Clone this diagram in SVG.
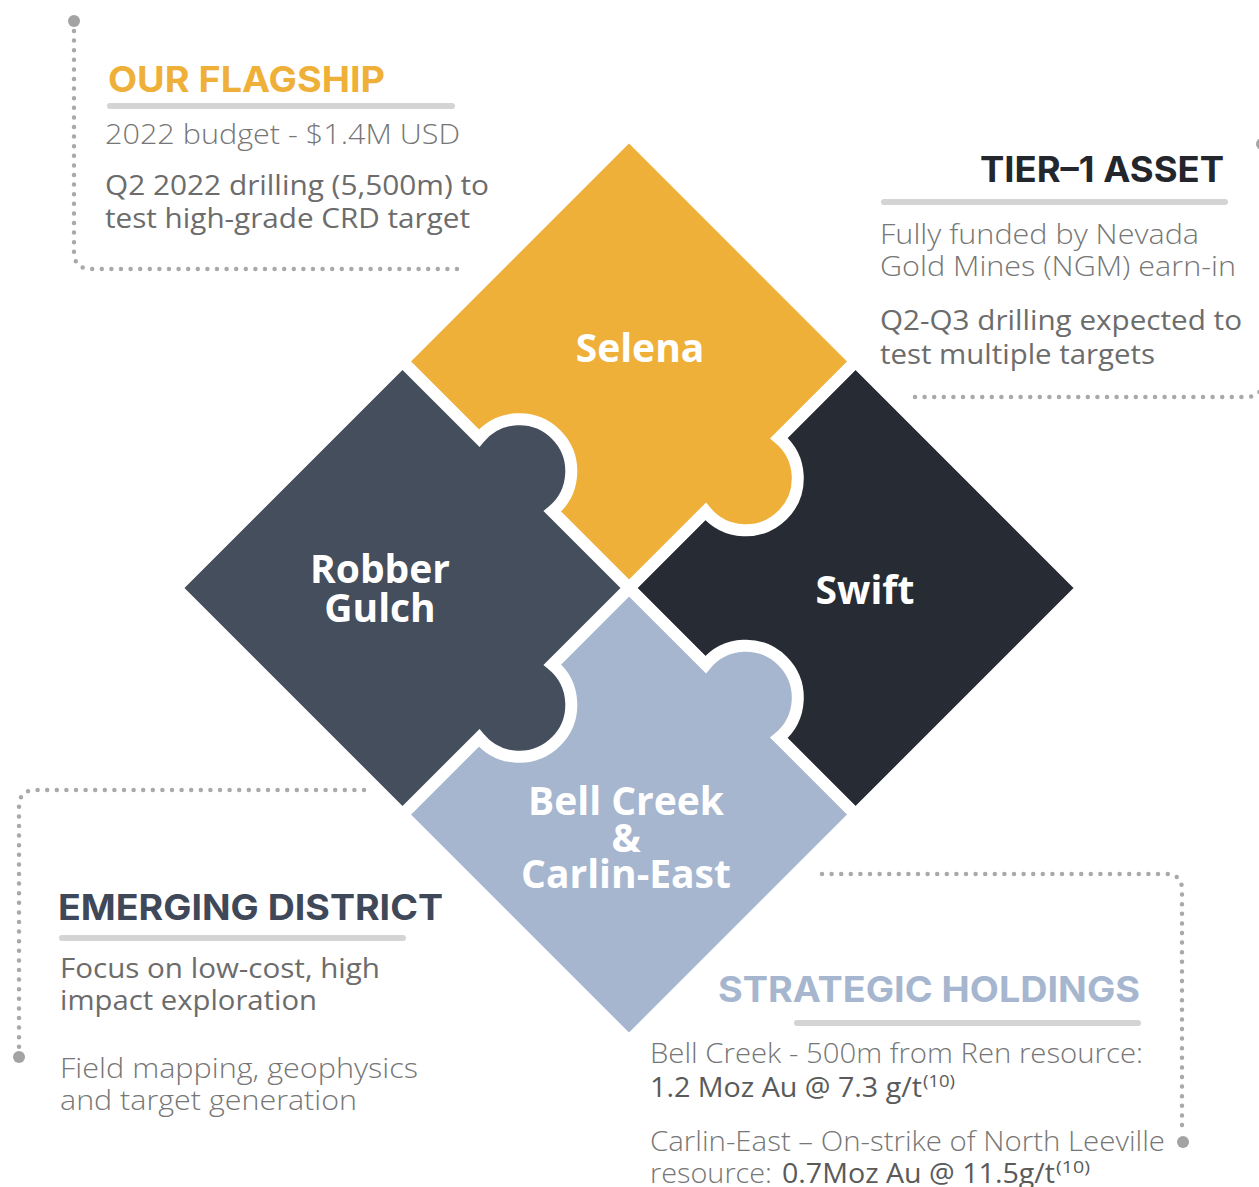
<svg xmlns="http://www.w3.org/2000/svg" width="1259" height="1187" viewBox="0 0 1259 1187">
<style>
.piece{stroke:#fff;stroke-width:12;stroke-linejoin:miter}
.lbl{font-family:"Open Sans","Noto Sans",sans-serif;font-weight:700;font-size:39px;fill:#fff;text-anchor:middle}
.ttl{font-family:Inter,"Noto Sans",sans-serif;font-weight:700;font-size:35px}
.lt{font-family:"Open Sans","Noto Sans",sans-serif;font-weight:300;font-size:28px;fill:#767676}
.rg{font-family:"Open Sans","Noto Sans",sans-serif;font-weight:400;font-size:28px;fill:#6c6c6c}
.dk{font-family:"Open Sans","Noto Sans",sans-serif;font-weight:400;font-size:28px;fill:#5a5a5a}
.sup{font-family:"Open Sans","Noto Sans",sans-serif;font-weight:400;font-size:17px;fill:#5a5a5a}
.bar{stroke:#d4d4d4;stroke-width:6;stroke-linecap:round}
.dot{fill:none;stroke:#a9a9a9;stroke-width:4.5;stroke-linecap:round;stroke-dasharray:0 9.6}
.end{fill:#a3a3a3}
</style>
<g id="connectors">
<path class="dot" d="M74 31 V252 Q74 269 91 269 H466"/>
<circle class="end" cx="74" cy="21" r="6"/>
<path class="dot" d="M915 397 H1245 Q1263 397 1263 380 V160"/>
<circle class="end" cx="1262" cy="144" r="6"/>
<path class="dot" d="M364 790 H36 Q19 790 19 807 V1048"/>
<circle class="end" cx="19" cy="1057" r="6"/>
<path class="dot" d="M822 874 H1166 Q1182 874 1182 890 V1133"/>
<circle class="end" cx="1183" cy="1142" r="6"/>
</g>
<g id="swift">
<path class="piece" fill="#272b33" d="M855.5 361.5 L1082 588 L855.5 814.5 L629 588 Z"/>
<text class="lbl" x="865" y="604">Swift</text>
</g>
<g id="selena">
<path class="piece" fill="#efb03a" d="M629 135 L855.5 361.5 L778.85 438.15 A52 52 0 1 1 705.65 511.35 L629 588 L402.5 361.5 Z"/>
<text class="lbl" x="640" y="362">Selena</text>
</g>
<g id="bell-creek">
<path class="piece" fill="#a6b6cf" d="M629 588 L705.65 664.65 A52 52 0 1 1 778.85 737.85 L855.5 814.5 L629 1041 L402.5 814.5 Z"/>
<text class="lbl" x="626" y="815">Bell Creek</text>
<text class="lbl" x="626" y="852">&amp;</text>
<text class="lbl" x="626" y="888">Carlin-East</text>
</g>
<g id="robber-gulch">
<path class="piece" fill="#444e5c" d="M402.5 361.5 L479.15 438.15 A52 52 0 1 1 552.35 511.35 L629 588 L552.35 664.65 A52 52 0 1 1 479.15 737.85 L402.5 814.5 L176 588 Z"/>
<text class="lbl" x="380" y="583">Robber</text>
<text class="lbl" x="380" y="622">Gulch</text>
</g>
<g id="our-flagship">
<text class="ttl" x="108" y="92" fill="#efb03a" textLength="277" lengthAdjust="spacingAndGlyphs">OUR FLAGSHIP</text>
<line class="bar" x1="110" y1="106" x2="452" y2="106"/>
<text class="lt" x="105" y="144" textLength="355" lengthAdjust="spacingAndGlyphs">2022 budget - $1.4M USD</text>
<text class="rg" x="105" y="195" textLength="384" lengthAdjust="spacingAndGlyphs">Q2 2022 drilling (5,500m) to</text>
<text class="rg" x="105" y="228" textLength="365" lengthAdjust="spacingAndGlyphs">test high-grade CRD target</text>
</g>
<g id="tier-1-asset">
<text class="ttl" x="980" y="182" fill="#23262c" textLength="244" lengthAdjust="spacingAndGlyphs">TIER–1 ASSET</text>
<line class="bar" x1="884" y1="202" x2="1225" y2="202"/>
<text class="lt" x="880" y="244" textLength="319" lengthAdjust="spacingAndGlyphs">Fully funded by Nevada</text>
<text class="lt" x="880" y="276" textLength="356" lengthAdjust="spacingAndGlyphs">Gold Mines (NGM) earn-in</text>
<text class="rg" x="880" y="330" textLength="362" lengthAdjust="spacingAndGlyphs">Q2-Q3 drilling expected to</text>
<text class="rg" x="880" y="364" textLength="275" lengthAdjust="spacingAndGlyphs">test multiple targets</text>
</g>
<g id="emerging-district">
<text class="ttl" x="58" y="920" fill="#3f4858" textLength="385" lengthAdjust="spacingAndGlyphs">EMERGING DISTRICT</text>
<line class="bar" x1="62" y1="938" x2="403" y2="938"/>
<text class="rg" x="60" y="978" textLength="320" lengthAdjust="spacingAndGlyphs">Focus on low-cost, high</text>
<text class="rg" x="60" y="1010" textLength="257" lengthAdjust="spacingAndGlyphs">impact exploration</text>
<text class="lt" x="60" y="1078" textLength="358" lengthAdjust="spacingAndGlyphs">Field mapping, geophysics</text>
<text class="lt" x="60" y="1110" textLength="297" lengthAdjust="spacingAndGlyphs">and target generation</text>
</g>
<g id="strategic-holdings">
<text class="ttl" x="718" y="1002" fill="#a6b6cf" textLength="422" lengthAdjust="spacingAndGlyphs">STRATEGIC HOLDINGS</text>
<line class="bar" x1="797" y1="1023" x2="1138" y2="1023"/>
<text class="lt" x="650" y="1063" textLength="493" lengthAdjust="spacingAndGlyphs">Bell Creek - 500m from Ren resource:</text>
<text class="dk" x="650" y="1097" textLength="272" lengthAdjust="spacingAndGlyphs">1.2 Moz Au @ 7.3 g/t</text>
<text class="sup" x="923" y="1087" textLength="32" lengthAdjust="spacingAndGlyphs">(10)</text>
<text class="lt" x="650" y="1151" textLength="515" lengthAdjust="spacingAndGlyphs">Carlin-East – On-strike of North Leeville</text>
<text class="lt" x="650" y="1183" textLength="122" lengthAdjust="spacingAndGlyphs">resource:</text>
<text class="dk" x="782" y="1183" textLength="273" lengthAdjust="spacingAndGlyphs">0.7Moz Au @ 11.5g/t</text>
<text class="sup" x="1056" y="1173" textLength="34" lengthAdjust="spacingAndGlyphs">(10)</text>
</g>
</svg>
